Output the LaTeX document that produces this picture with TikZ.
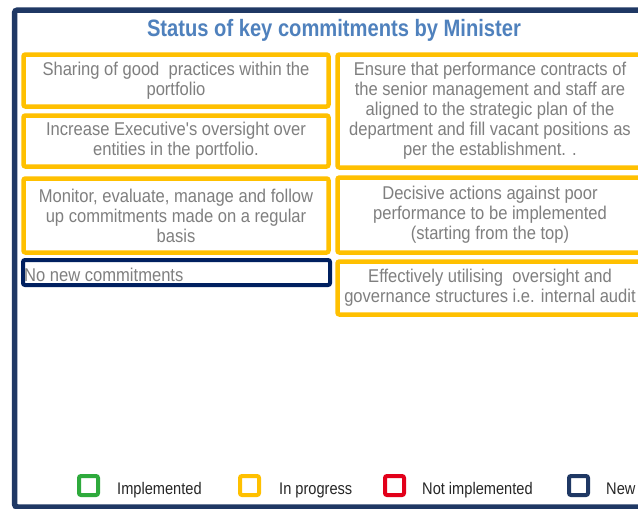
\documentclass[tikz,border=0pt]{standalone}
\usepackage{fontspec}
\setmainfont{Liberation Sans}
\newfontfamily\bodyf{Liberation Sans}[FakeStretch=0.895]
\newfontfamily\titlef{Liberation Sans}[FakeStretch=0.85]
\newfontfamily\legf{Liberation Sans}[FakeStretch=0.87]
\definecolor{framenavy}{HTML}{1F3864}
\definecolor{newnavy}{HTML}{002060}
\definecolor{prog}{HTML}{FFC000}
\definecolor{impl}{HTML}{2EAA3C}
\definecolor{notimpl}{HTML}{E2001A}
\definecolor{titleblue}{HTML}{4F81BD}
\definecolor{txtgray}{HTML}{7F7F7F}
\definecolor{legtxt}{HTML}{262626}
\tikzset{
  cbox/.style={draw=prog, line width=4.5pt, rounded corners=2pt, fill=white,
    inner sep=0pt, align=center, text=txtgray,
    font=\bodyf\fontsize{18.5}{20}\selectfont},
  newbox/.style={draw=newnavy, line width=4pt, rounded corners=2pt, fill=white, inner sep=0pt},
  legsq/.style={line width=4pt, rounded corners=2pt, fill=white, minimum width=19pt, minimum height=19pt, inner sep=0pt},
  legtext/.style={anchor=base west, inner sep=0pt, text=legtxt, font=\legf\fontsize{16.8}{19}\selectfont},
}
\begin{document}
\begin{tikzpicture}[x=1pt,y=-1pt]
\clip (0,0) rectangle (638,509);
\fill[white] (0,0) rectangle (638,509);
% outer frame
\draw[framenavy, line width=5.5pt, rounded corners=3pt] (14.5,10) rectangle (670,507);
% title
\node[anchor=base, inner sep=0pt, text=titleblue, font=\titlef\bfseries\fontsize{23.7}{26}\selectfont] (title) at (334,36.5) {Status of key commitments by Minister};
% left column
\node[cbox, minimum width=305pt, minimum height=52pt] (b1) at (176,80.5)
  {Sharing of good~ practices within the\\portfolio};
\node[cbox, minimum width=305pt, minimum height=51pt] (b2) at (176,141)
  {Increase Executive's oversight over\\entities in the portfolio.};
\node[cbox, minimum width=305pt, minimum height=74pt] (b3) at (176,215.5)
  {Monitor, evaluate, manage and follow\\up commitments made on a regular\\basis};
\node[newbox, minimum width=307pt, minimum height=25pt] (b4) at (176.5,272.5) {};
\node[anchor=base west, inner sep=0pt, text=txtgray, font=\bodyf\fontsize{18.5}{20}\selectfont] (b4t) at (24,281) {No new commitments};
% right column
\node[cbox, minimum width=305pt, minimum height=113pt] (b5) at (490,111)
  {Ensure that performance contracts of\\the senior management and staff are\\aligned to the strategic plan of the\\department and fill vacant positions as\\per the establishment. .};
\node[cbox, minimum width=305pt, minimum height=75pt] (b6) at (490,215)
  {Decisive actions against poor\\performance to be implemented\\(starting from the top)};
\node[cbox, minimum width=305pt, minimum height=53pt] (b7) at (490,288)
  {Effectively utilising~ oversight and\\governance structures i.e. internal audit};
% legend
\node[legsq, draw=impl] (l1) at (88.5,485.5) {};
\node[legtext] (l1t) at (117,494) {Implemented};
\node[legsq, draw=prog] (l2) at (249.5,485.5) {};
\node[legtext] (l2t) at (279,494) {In progress};
\node[legsq, draw=notimpl] (l3) at (394.5,485.5) {};
\node[legtext] (l3t) at (422,494) {Not implemented};
\node[legsq, draw=framenavy] (l4) at (578.5,485.5) {};
\node[legtext] (l4t) at (606,494) {New};
\end{tikzpicture}
\end{document}
